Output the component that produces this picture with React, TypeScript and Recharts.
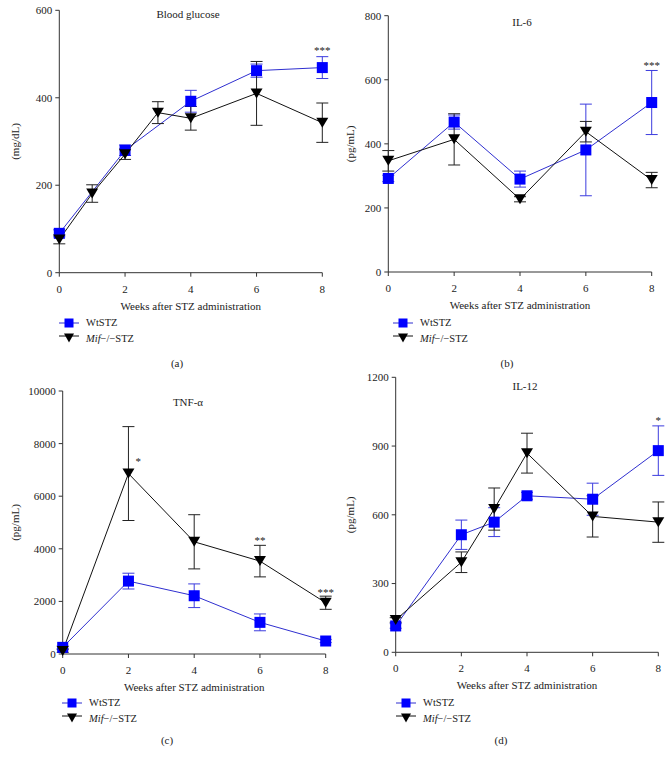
import React from 'react';
import { LineChart, Line, XAxis, YAxis, ErrorBar, Legend, ReferenceDot } from 'recharts';

const FONT = '"Liberation Serif", "DejaVu Serif", serif';
const BLUE = '#0000ff';
const BLUE_LINE = '#2f2fd0';
const BLUE_ERR = '#3c3cde';
const AXIS = '#333';
const TEXT = '#222';

const weekTicks = [0, 2, 4, 6, 8];

// (a) blood glucose, mg/dL
const glucoseWtWeeks = [0, 2, 4, 6, 8];
const glucoseWtMean = [90, 280, 392, 462, 469];
const glucoseWtErr = [8, 12, 25, 15, 25];
const glucoseKoWeeks = [0, 1, 2, 3, 4, 6, 8];
const glucoseKoMean = [76, 181, 271, 366, 353, 410, 343];
const glucoseKoErr = [10, 20, 12, 25, 27, 73, 45];
const glucoseTicks = [0, 200, 400, 600];
const glucoseStars = [{ week: 8, y: 508, text: '***' }];

// (b) IL-6, pg/mL
const il6Weeks = [0, 2, 4, 6, 8];
const il6WtMean = [292, 468, 290, 381, 529];
const il6WtErr = [10, 22, 25, 143, 100];
const il6KoMean = [347, 414, 227, 438, 287];
const il6KoErr = [32, 80, 8, 32, 24];
const il6Ticks = [0, 200, 400, 600, 800];
const il6Stars = [{ week: 8, y: 645, text: '***' }];

// (c) TNF-alpha, pg/mL
const tnfWeeks = [0, 2, 4, 6, 8];
const tnfWtMean = [253, 2772, 2215, 1203, 494];
const tnfWtErr = [50, 300, 450, 320, 60];
const tnfKoMean = [114, 6861, 4266, 3532, 1949];
const tnfKoErr = [50, 1785, 1030, 600, 250];
const tnfTicks = [0, 2000, 4000, 6000, 8000, 10000];
const tnfStars = [
  { week: 2.3, y: 7350, text: '*' },
  { week: 6, y: 4330, text: '**' },
  { week: 8, y: 2350, text: '***' },
];

// (d) IL-12, pg/mL
const il12Weeks = [0, 2, 3, 4, 6, 8];
const il12WtMean = [115, 513, 568, 683, 668, 880];
const il12WtErr = [10, 64, 63, 15, 70, 108];
const il12KoMean = [141, 393, 625, 869, 593, 568];
const il12KoErr = [10, 45, 92, 87, 90, 88];
const il12Ticks = [0, 300, 600, 900, 1200];
const il12Stars = [{ week: 8, y: 1012, text: '*' }];

const rows = (weeks: number[], mean: number[], err: number[]) =>
  weeks.map((w, i) => ({ week: w, v: mean[i], e: err[i] }));

const SquareDot = (props: any) => {
  const { cx, cy, index } = props;
  if (cx == null || cy == null) return <g key={`s${index}`} />;
  return <rect key={`s${index}`} x={cx - 5.5} y={cy - 5.5} width={11} height={11} fill={BLUE} />;
};

const TriDot = (props: any) => {
  const { cx, cy, index } = props;
  if (cx == null || cy == null) return <g key={`t${index}`} />;
  return <path key={`t${index}`} d={`M${cx - 6},${cy - 5} L${cx + 6},${cy - 5} L${cx},${cy + 5} Z`} fill="#000" />;
};

const renderLegend = () => (
  <div style={{ fontFamily: FONT, fontSize: 10.5, color: TEXT, lineHeight: '15.5px' }}>
    <div style={{ display: 'flex', alignItems: 'center', height: 15.5 }}>
      <svg width={22} height={14}>
        <line x1={1} x2={21} y1={7} y2={7} stroke={BLUE_LINE} />
        <rect x={6.5} y={2.5} width={9} height={9} fill={BLUE} />
      </svg>
      <span style={{ marginLeft: 6 }}>WtSTZ</span>
    </div>
    <div style={{ display: 'flex', alignItems: 'center', height: 15.5 }}>
      <svg width={22} height={14}>
        <line x1={1} x2={21} y1={5} y2={5} stroke="#111" />
        <path d="M6,2.5 L16,2.5 L11,11.5 Z" fill="#000" />
      </svg>
      <span style={{ marginLeft: 6 }}>
        <i>Mif</i>−/−STZ
      </span>
    </div>
  </div>
);

type Star = { week: number; y: number; text: string };

type PanelProps = {
  left: number;
  top: number;
  width: number;
  height: number;
  margin: { top: number; right: number; bottom: number; left: number };
  yWidth: number;
  yTicks: number[];
  yLabel: string;
  wt: { week: number; v: number; e: number }[];
  ko: { week: number; v: number; e: number }[];
  stars: Star[];
  title: string;
  titleX: number;
  titleY: number;
  legendLeft: number;
  legendTop: number;
  letter: string;
  letterX: number;
  letterY: number;
};

const tickStyle = { fill: TEXT, fontSize: 11, fontFamily: FONT };

const Panel: React.FC<PanelProps> = (p) => (
  <div style={{ position: 'absolute', left: p.left, top: p.top, width: p.width, height: p.height }}>
    <LineChart width={p.width} height={p.height} margin={p.margin} style={{ fontFamily: FONT }}>
      <XAxis
        dataKey="week"
        type="number"
        domain={[0, 8]}
        ticks={weekTicks}
        height={40}
        tickSize={4}
        tickMargin={8}
        stroke={AXIS}
        tick={tickStyle}
        label={{ value: 'Weeks after STZ administration', position: 'insideBottom', offset: 3, fill: TEXT, fontSize: 11, fontFamily: FONT }}
      />
      <YAxis
        type="number"
        domain={[0, p.yTicks[p.yTicks.length - 1]]}
        ticks={p.yTicks}
        width={p.yWidth}
        tickSize={4}
        tickMargin={3}
        stroke={AXIS}
        tick={tickStyle}
        label={{ value: p.yLabel, angle: -90, position: 'insideLeft', offset: 15, fill: TEXT, fontSize: 11, fontFamily: FONT, style: { textAnchor: 'middle' } }}
      />
      <Line data={p.wt} dataKey="v" stroke={BLUE_LINE} strokeWidth={1} dot={SquareDot} activeDot={false} isAnimationActive={false}>
        <ErrorBar dataKey="e" direction="y" width={6} stroke={BLUE_ERR} strokeWidth={1} />
      </Line>
      <Line data={p.ko} dataKey="v" stroke="#111" strokeWidth={1} dot={TriDot} activeDot={false} isAnimationActive={false}>
        <ErrorBar dataKey="e" direction="y" width={6} stroke="#222" strokeWidth={1} />
      </Line>
      {p.stars.map((s, i) => (
        <ReferenceDot
          key={i}
          x={s.week}
          y={s.y}
          r={0}
          fill="none"
          stroke="none"
          label={{ value: s.text, position: 'center', fill: TEXT, fontSize: 11, fontFamily: FONT }}
        />
      ))}
      <Legend
        layout="vertical"
        align="center"
        verticalAlign="middle"
        content={renderLegend}
        wrapperStyle={{ left: p.legendLeft, top: p.legendTop, width: 'auto' }}
      />
    </LineChart>
    <div style={{ position: 'absolute', left: p.titleX - 60, top: p.titleY - 7, width: 120, textAlign: 'center', fontSize: 11, lineHeight: '14px', color: TEXT }}>
      {p.title}
    </div>
    <div style={{ position: 'absolute', left: p.letterX - 20, top: p.letterY - 7, width: 40, textAlign: 'center', fontSize: 11, lineHeight: '14px', color: TEXT }}>
      {p.letter}
    </div>
  </div>
);

const panels: PanelProps[] = [
  {
    left: 0, top: 0, width: 335, height: 365,
    margin: { top: 10.3, right: 12.7, bottom: 52.3, left: 0 },
    yWidth: 59.3, yTicks: glucoseTicks, yLabel: '(mg/dL)',
    wt: rows(glucoseWtWeeks, glucoseWtMean, glucoseWtErr),
    ko: rows(glucoseKoWeeks, glucoseKoMean, glucoseKoErr),
    stars: glucoseStars,
    title: 'Blood glucose', titleX: 188, titleY: 14,
    legendLeft: 58, legendTop: 315,
    letter: '(a)', letterX: 177, letterY: 363,
  },
  {
    left: 335, top: 0, width: 336, height: 365,
    margin: { top: 15.7, right: 19.3, bottom: 53, left: 0 },
    yWidth: 53.3, yTicks: il6Ticks, yLabel: '(pg/mL)',
    wt: rows(il6Weeks, il6WtMean, il6WtErr),
    ko: rows(il6Weeks, il6KoMean, il6KoErr),
    stars: il6Stars,
    title: 'IL-6', titleX: 187, titleY: 22,
    legendLeft: 57, legendTop: 315,
    letter: '(b)', letterX: 172, letterY: 363,
  },
  {
    left: 0, top: 365, width: 335, height: 396,
    margin: { top: 26, right: 9.3, bottom: 67, left: 0 },
    yWidth: 62.7, yTicks: tnfTicks, yLabel: '(pg/mL)',
    wt: rows(tnfWeeks, tnfWtMean, tnfWtErr),
    ko: rows(tnfWeeks, tnfKoMean, tnfKoErr),
    stars: tnfStars,
    title: 'TNF-α', titleX: 188, titleY: 37,
    legendLeft: 61, legendTop: 330,
    letter: '(c)', letterX: 167, letterY: 375,
  },
  {
    left: 335, top: 365, width: 336, height: 396,
    margin: { top: 12.3, right: 12.7, bottom: 68.7, left: 0 },
    yWidth: 60.7, yTicks: il12Ticks, yLabel: '(pg/mL)',
    wt: rows(il12Weeks, il12WtMean, il12WtErr),
    ko: rows(il12Weeks, il12KoMean, il12KoErr),
    stars: il12Stars,
    title: 'IL-12', titleX: 190, titleY: 21,
    legendLeft: 60, legendTop: 330,
    letter: '(d)', letterX: 166, letterY: 375,
  },
];

export default function App() {
  return (
    <div style={{ position: 'absolute', left: 0, top: 0, width: 671, height: 761, background: '#fff', fontFamily: FONT, overflow: 'hidden' }}>
      {panels.map((p, i) => (
        <Panel key={i} {...p} />
      ))}
    </div>
  );
}
